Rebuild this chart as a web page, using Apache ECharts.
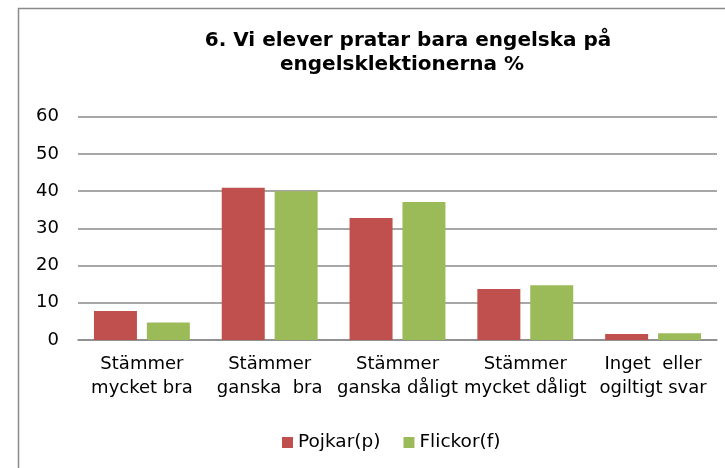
<!DOCTYPE html>
<html>
<head>
<meta charset="utf-8">
<script src="https://cdn.jsdelivr.net/npm/echarts@6/dist/echarts.min.js"></script>
<style>
  html, body { margin: 0; padding: 0; background: #fff; }
  #main { width: 725px; height: 468px; }
</style>
</head>
<body>
<div id="main"></div>
<script>
// data
var categories = [
  'Stämmer\nmycket bra',
  'Stämmer\nganska  bra',
  'Stämmer\nganska dåligt',
  'Stämmer\nmycket dåligt',
  'Inget  eller\nogiltigt svar'
];
var pojkar = [7.8, 40.9, 32.8, 13.7, 1.6];
var flickor = [4.7, 40.0, 37.1, 14.7, 1.8];
var seriesNames = ['Pojkar(p)', 'Flickor(f)'];
var titleLines = ['6. Vi elever pratar bara engelska på', 'engelsklektionerna %'];

var font = '"DejaVu Sans", sans-serif';
var titleFont = { fontFamily: font, fontSize: 20, fontWeight: 'bold', color: '#000' };

var chart = echarts.init(document.getElementById('main'));
chart.setOption({
  animation: false,
  textStyle: { fontFamily: font },
  graphic: [{
    type: 'rect',
    shape: { x: 18.5, y: 8.5, width: 800, height: 600 },
    style: { fill: 'none', stroke: '#8a8a8a', lineWidth: 1.5 },
    silent: true
  }],
  title: [
    { text: titleLines[0], left: 403, top: 26, textAlign: 'center', textStyle: titleFont },
    { text: titleLines[1], left: 397, top: 50, textAlign: 'center', textStyle: titleFont }
  ],
  legend: {
    data: seriesNames,
    left: 277,
    top: 428,
    itemWidth: 11,
    itemHeight: 11,
    itemGap: 23,
    icon: 'rect',
    textStyle: { fontFamily: font, fontSize: 18.5, color: '#000' }
  },
  grid: { left: 78, right: 8, top: 116.7, bottom: 128 },
  xAxis: {
    type: 'category',
    data: categories,
    axisLine: { lineStyle: { color: '#8a8a8a', width: 1.5 } },
    axisTick: { show: false },
    axisLabel: {
      interval: 0,
      margin: 13,
      fontFamily: font,
      fontSize: 18,
      color: '#000',
      lineHeight: 23.5
    }
  },
  yAxis: {
    type: 'value',
    min: 0,
    max: 60,
    interval: 10,
    axisLine: { show: false },
    axisTick: { show: false },
    splitLine: { lineStyle: { color: '#8a8a8a', width: 1.5 } },
    axisLabel: { margin: 19, fontFamily: font, fontSize: 18, color: '#000' }
  },
  series: [
    {
      name: seriesNames[0],
      type: 'bar',
      data: pojkar,
      barWidth: 43,
      barGap: '23%',
      itemStyle: { color: '#c0504d' }
    },
    {
      name: seriesNames[1],
      type: 'bar',
      data: flickor,
      barWidth: 43,
      barGap: '23%',
      itemStyle: { color: '#9bbb59' }
    }
  ]
});
</script>
</body>
</html>
